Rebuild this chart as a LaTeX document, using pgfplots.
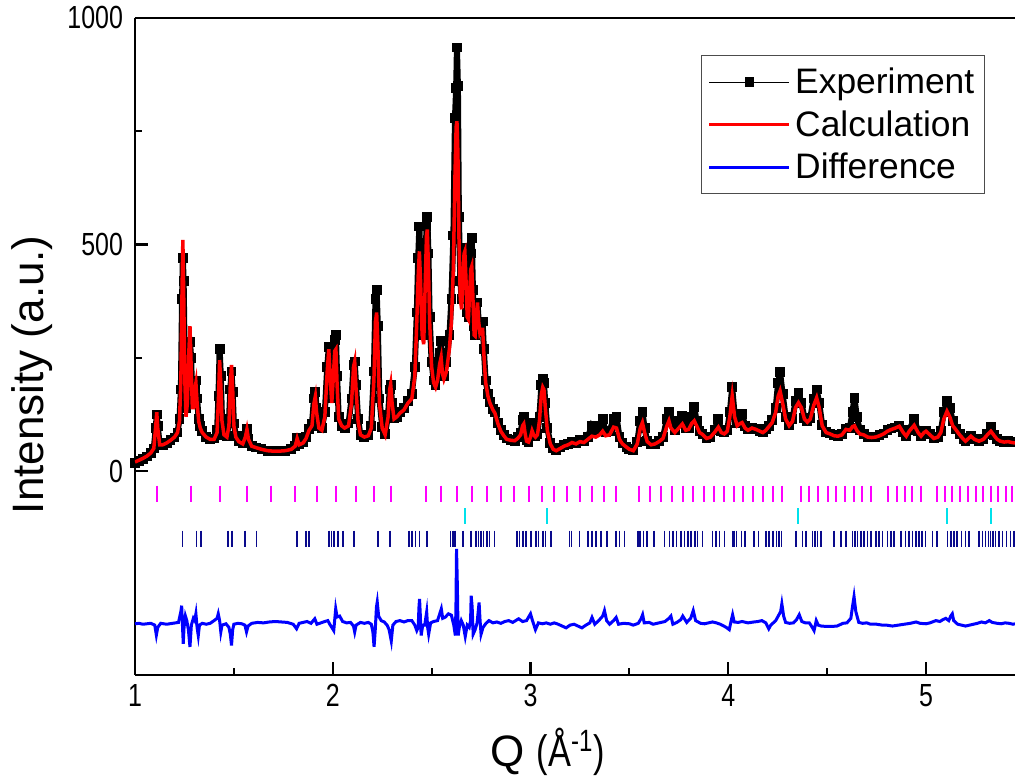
\documentclass[border=0pt]{standalone}
\usepackage{fontspec}
\setmainfont{Liberation Sans}
\newfontfamily\narrowfont[FakeStretch=0.78]{Liberation Sans}
\usepackage{pgfplots}
\usepackage{pgfplotstable}
\pgfplotsset{compat=1.18}
\definecolor{cmag}{RGB}{255,0,255}
\definecolor{ccyan}{RGB}{0,225,235}
\definecolor{cnavy}{RGB}{10,10,140}
\definecolor{cblue}{RGB}{0,0,255}
\definecolor{cred}{RGB}{255,0,0}

\pgfplotstableread{
x c e
1.00 20 18
1.02 24 22
1.04 28 27
1.06 33 32
1.08 40 40
1.095 50 50
1.105 100 95
1.11 130 125
1.115 95 100
1.125 58 58
1.14 58 57
1.16 62 62
1.18 68 68
1.20 75 74
1.215 85 85
1.225 110 115
1.232 200 180
1.238 400 380
1.242 510 470
1.246 400 420
1.252 200 230
1.258 120 140
1.265 150 170
1.272 260 240
1.278 320 285
1.284 230 250
1.29 140 150
1.296 140 150
1.302 180 180
1.308 195 200
1.314 150 160
1.322 110 115
1.33 95 100
1.34 85 88
1.36 75 76
1.38 70 71
1.40 70 72
1.415 85 90
1.422 160 165
1.428 245 270
1.434 190 210
1.44 110 115
1.45 80 80
1.465 75 78
1.475 100 110
1.482 190 180
1.488 234 220
1.494 180 175
1.50 100 105
1.51 75 78
1.525 65 66
1.545 60 62
1.558 75 78
1.566 92 92
1.574 70 72
1.59 55 55
1.61 52 52
1.64 48 48
1.67 45 45
1.70 44 44
1.73 44 44
1.76 45 45
1.79 48 48
1.81 55 56
1.82 72 74
1.83 58 60
1.85 62 64
1.865 72 75
1.88 90 92
1.895 100 105
1.905 150 160
1.912 165 175
1.918 130 140
1.93 95 100
1.945 90 95
1.96 120 130
1.972 220 230
1.98 269 273
1.988 200 220
1.995 150 160
2.002 200 210
2.01 265 290
2.016 269 300
2.022 190 210
2.03 115 120
2.045 100 100
2.06 95 95
2.08 100 105
2.095 150 160
2.105 230 235
2.111 242 242
2.118 180 190
2.128 110 115
2.14 80 80
2.16 75 75
2.18 78 80
2.195 95 100
2.208 200 220
2.216 330 380
2.222 350 400
2.228 280 320
2.236 150 160
2.25 95 98
2.265 80 82
2.28 120 125
2.288 180 180
2.293 192 190
2.30 150 150
2.31 115 118
2.325 120 120
2.34 128 130
2.36 135 140
2.38 150 155
2.40 160 170
2.415 210 230
2.425 330 350
2.432 430 470
2.438 485 540
2.444 420 460
2.452 300 320
2.46 280 300
2.468 420 440
2.474 520 540
2.478 533 561
2.484 450 480
2.49 330 340
2.50 230 240
2.51 195 200
2.52 185 190
2.53 200 210
2.54 235 260
2.548 251 287
2.555 215 230
2.562 203 210
2.575 220 240
2.59 270 300
2.60 330 380
2.61 450 520
2.618 650 780
2.624 760 845
2.628 772 935
2.633 700 850
2.638 520 560
2.645 380 420
2.652 357 380
2.658 420 440
2.664 480 485
2.668 485 493
2.674 420 430
2.68 340 350
2.686 335 340
2.692 390 420
2.698 445 480
2.703 452 515
2.709 380 400
2.715 300 320
2.72 298 300
2.726 340 350
2.732 372 372
2.738 330 330
2.744 305 306
2.752 313 320
2.758 313 330
2.764 260 270
2.773 196 200
2.785 165 170
2.795 150 152
2.81 135 137
2.82 128 130
2.835 105 107
2.85 88 90
2.865 78 80
2.88 70 72
2.90 68 68
2.92 67 67
2.935 72 75
2.95 80 85
2.96 100 112
2.966 104 119
2.972 85 90
2.98 66 68
2.99 64 65
3.00 75 80
3.008 89 106
3.016 80 85
3.025 75 78
3.035 80 82
3.045 110 120
3.055 170 190
3.062 185 203
3.068 180 195
3.075 140 150
3.085 90 95
3.10 60 62
3.115 48 50
3.13 45 46
3.15 50 52
3.17 55 57
3.19 58 60
3.21 63 65
3.23 60 62
3.25 65 68
3.27 63 66
3.29 70 75
3.31 77 100
3.33 75 90
3.35 80 100
3.365 88 115
3.38 78 85
3.40 80 88
3.42 97 115
3.435 95 119
3.45 70 75
3.465 60 62
3.485 53 54
3.50 48 49
3.52 45 46
3.54 60 65
3.555 95 110
3.566 107 130
3.577 85 95
3.59 65 66
3.61 58 59
3.63 60 60
3.65 65 66
3.67 72 75
3.69 100 115
3.70 111 130
3.71 95 110
3.73 85 90
3.75 95 110
3.768 104 122
3.785 90 95
3.80 92 95
3.815 105 120
3.828 111 141
3.84 100 110
3.855 85 88
3.87 81 82
3.89 72 73
3.91 75 76
3.93 85 90
3.95 97 115
3.965 85 88
3.98 82 85
3.995 88 90
4.008 120 130
4.02 166 185
4.032 120 125
4.045 100 105
4.06 105 115
4.07 107 126
4.085 95 100
4.10 90 92
4.12 95 96
4.14 92 93
4.16 88 89
4.175 85 86
4.19 90 92
4.205 98 100
4.222 107 112
4.24 130 140
4.252 165 195
4.262 177 218
4.275 150 170
4.29 115 120
4.308 100 102
4.325 110 115
4.34 140 155
4.355 151 173
4.37 140 150
4.385 115 118
4.40 108 110
4.415 115 118
4.432 145 160
4.447 162 180
4.46 140 150
4.475 100 102
4.495 85 86
4.515 82 83
4.535 78 79
4.555 77 78
4.575 80 82
4.595 92 94
4.615 90 95
4.628 98 130
4.638 100 162
4.65 90 120
4.665 82 90
4.685 80 82
4.705 75 76
4.725 74 75
4.745 75 76
4.765 78 79
4.785 82 83
4.805 88 90
4.825 92 94
4.845 95 96
4.865 99 100
4.885 85 86
4.90 77 78
4.915 88 90
4.94 101 115
4.96 85 88
4.975 77 78
4.99 85 86
5.00 88 89
5.02 80 81
5.04 72 73
5.06 75 76
5.075 85 88
5.09 115 130
5.106 132 154
5.12 120 140
5.135 100 110
5.15 92 93
5.17 80 81
5.19 70 71
5.20 66 67
5.215 72 73
5.227 77 78
5.245 70 71
5.268 66 67
5.29 70 71
5.31 80 82
5.328 88 97
5.345 78 80
5.36 70 71
5.375 66 67
5.395 64 65
5.415 65 66
5.435 63 64
5.45 62 63
}\profile

\pgfplotstableread{
x d
1.00 -337
1.02 -336
1.04 -338
1.06 -337
1.08 -336
1.10 -340
1.108 -362
1.115 -345
1.13 -336
1.16 -338
1.19 -336
1.22 -334
1.232 -310
1.236 -297
1.240 -340
1.244 -381
1.248 -345
1.255 -320
1.262 -330
1.270 -350
1.278 -388
1.285 -340
1.295 -325
1.302 -330
1.308 -315
1.314 -345
1.32 -363
1.326 -340
1.34 -336
1.36 -338
1.38 -336
1.40 -330
1.415 -325
1.421 -315
1.428 -330
1.434 -355
1.44 -340
1.46 -337
1.475 -345
1.482 -360
1.488 -385
1.494 -350
1.50 -338
1.52 -336
1.54 -337
1.556 -340
1.564 -355
1.572 -342
1.59 -336
1.62 -334
1.65 -335
1.68 -333
1.71 -332
1.74 -333
1.77 -334
1.80 -338
1.817 -348
1.83 -336
1.85 -334
1.87 -332
1.89 -336
1.909 -326
1.92 -338
1.94 -335
1.96 -332
1.975 -330
1.985 -338
2.005 -352
2.015 -304
2.022 -322
2.035 -320
2.05 -332
2.07 -335
2.09 -334
2.105 -342
2.111 -355
2.118 -340
2.14 -334
2.16 -336
2.18 -334
2.195 -338
2.203 -355
2.209 -388
2.215 -350
2.221 -300
2.225 -289
2.232 -320
2.245 -330
2.26 -333
2.275 -340
2.285 -350
2.296 -375
2.304 -340
2.32 -332
2.34 -330
2.36 -333
2.38 -330
2.40 -330
2.415 -340
2.425 -352
2.432 -345
2.436 -300
2.439 -282
2.443 -320
2.447 -363
2.455 -340
2.465 -340
2.475 -311
2.48 -345
2.485 -360
2.495 -335
2.51 -332
2.53 -330
2.549 -304
2.556 -325
2.57 -322
2.585 -315
2.60 -318
2.612 -340
2.62 -363
2.623 -300
2.626 -172
2.630 -250
2.634 -363
2.64 -345
2.65 -330
2.66 -340
2.67 -365
2.68 -340
2.69 -345
2.697 -330
2.70 -275
2.705 -300
2.71 -360
2.72 -350
2.73 -335
2.74 -290
2.745 -330
2.75 -360
2.76 -345
2.775 -336
2.79 -330
2.81 -335
2.83 -333
2.85 -336
2.87 -332
2.89 -330
2.91 -334
2.94 -326
2.96 -332
2.98 -330
3.00 -315
3.01 -330
3.025 -350
3.04 -335
3.06 -337
3.08 -335
3.10 -338
3.12 -335
3.14 -338
3.16 -342
3.18 -346
3.20 -340
3.22 -338
3.24 -342
3.26 -346
3.28 -340
3.30 -335
3.311 -323
3.325 -338
3.345 -330
3.365 -320
3.374 -308
3.385 -330
3.40 -338
3.42 -330
3.433 -323
3.445 -338
3.47 -336
3.50 -337
3.52 -340
3.545 -336
3.56 -325
3.567 -317
3.575 -335
3.60 -334
3.62 -338
3.64 -336
3.66 -334
3.68 -332
3.70 -325
3.71 -320
3.72 -338
3.74 -334
3.76 -328
3.77 -320
3.79 -334
3.81 -325
3.823 -308
3.835 -330
3.86 -336
3.88 -337
3.90 -335
3.92 -333
3.94 -335
3.96 -338
3.99 -345
4.005 -350
4.015 -330
4.022 -317
4.03 -333
4.05 -334
4.07 -332
4.10 -335
4.13 -333
4.15 -332
4.17 -330
4.19 -335
4.205 -348
4.215 -340
4.24 -330
4.265 -310
4.271 -293
4.28 -320
4.29 -334
4.31 -336
4.33 -335
4.345 -328
4.359 -317
4.372 -332
4.39 -335
4.41 -335
4.425 -345
4.434 -352
4.445 -330
4.455 -340
4.47 -342
4.50 -343
4.52 -343
4.55 -342
4.58 -336
4.60 -335
4.62 -325
4.628 -300
4.636 -277
4.645 -310
4.66 -334
4.68 -336
4.70 -335
4.72 -338
4.75 -338
4.78 -340
4.80 -340
4.83 -342
4.86 -340
4.89 -338
4.92 -336
4.95 -333
4.97 -336
5.00 -337
5.02 -335
5.05 -330
5.07 -332
5.085 -328
5.10 -325
5.115 -330
5.125 -320
5.133 -315
5.14 -330
5.16 -338
5.18 -340
5.20 -342
5.22 -340
5.24 -338
5.26 -336
5.28 -333
5.30 -335
5.32 -330
5.335 -334
5.36 -336
5.38 -337
5.40 -335
5.42 -336
5.44 -338
5.45 -337
}\diff

\begin{document}
\begin{tikzpicture}
\begin{axis}[
  width=440pt, height=328.5pt, scale only axis,
  xmin=1, xmax=5.45, ymin=-450, ymax=1000,
  clip mode=individual,
  axis x line*=box, axis y line*=left,
  xtick={1,2,3,4,5}, ytick={0,500,1000},
  minor x tick num=1, minor y tick num=1,
  xtick pos=bottom, ytick pos=left,
  tick align=inside,
  major tick length=6.5pt, minor tick length=3.5pt,
  every tick/.style={black, line width=1.1pt},
  axis line style={line width=1.25pt},
  /pgf/number format/assume math mode=true,
  /pgf/number format/1000 sep={},
  xticklabel style={font=\narrowfont\fontsize{16}{16}\selectfont, yshift=-1pt},
  yticklabel style={font=\narrowfont\fontsize{16}{16}\selectfont, xshift=-2.5pt},
  xlabel={Q {\narrowfont(Å\textsuperscript{-1})}},
  ylabel={Intensity (a.u.)},
  label style={font=\fontsize{22}{26}\selectfont},
  xlabel style={at={(axis description cs:0.469,-0.117)}, anchor=center},
  ylabel style={at={(axis description cs:-0.117,0.457)}, anchor=center},
  legend image code/.code={\draw[mark repeat=2,mark phase=2,#1] plot coordinates {(0pt,0pt) (20pt,0pt) (40pt,0pt)};},
  legend style={at={(rel axis cs:1,1)}, anchor=north east, xshift=-15pt, yshift=-18.5pt,
    draw=black!70, line width=0.75pt, font=\fontsize{17.7}{21}\selectfont,
    inner xsep=3pt, inner ysep=4pt, row sep=3pt},
  legend cell align=left,
]
\addplot[forget plot, black, line width=3pt, line join=miter, miter limit=2] table[x=x, y=e] {\profile};
\addplot[black, line width=0.5pt, mark=square*, mark size=2.2pt, mark options={solid}] table[x=x, y=e] {\profile};
\addlegendentry{Experiment}
\addplot[cred, line width=1.75pt] table[x=x, y=c] {\profile};
\addlegendentry{Calculation}
\addplot[cblue, line width=1.5pt] table[x=x, y=d] {\diff};
\addlegendentry{Difference}

\addplot[forget plot, only marks, mark=|, mark size=4pt, cmag, mark options={line width=1pt}] coordinates {
(1.110,-50) (1.281,-50) (1.429,-50) (1.564,-50) (1.690,-50) (1.808,-50) (1.918,-50) (2.015,-50)
(2.116,-50) (2.209,-50) (2.296,-50) (2.470,-50) (2.549,-50) (2.628,-50) (2.705,-50) (2.779,-50)
(2.852,-50) (2.919,-50) (2.991,-50) (3.057,-50) (3.121,-50) (3.185,-50) (3.251,-50) (3.312,-50)
(3.370,-50) (3.433,-50) (3.547,-50) (3.605,-50) (3.660,-50) (3.716,-50) (3.769,-50) (3.823,-50)
(3.875,-50) (3.926,-50) (3.976,-50) (4.027,-50) (4.076,-50) (4.125,-50) (4.175,-50) (4.226,-50)
(4.274,-50) (4.367,-50) (4.409,-50) (4.456,-50) (4.502,-50) (4.547,-50) (4.591,-50) (4.636,-50)
(4.678,-50) (4.724,-50) (4.808,-50) (4.852,-50) (4.892,-50) (4.931,-50) (4.973,-50) (5.054,-50)
(5.096,-50) (5.133,-50) (5.172,-50) (5.212,-50) (5.251,-50) (5.289,-50) (5.327,-50) (5.365,-50)
(5.402,-50) (5.436,-50)
};
\addplot[forget plot, only marks, mark=|, mark size=4pt, ccyan, mark options={line width=1pt}] coordinates {
(2.670,-100) (3.082,-100) (4.352,-100) (5.104,-100) (5.330,-100)
};
\addplot[forget plot, only marks, mark=|, mark size=4pt, cnavy, mark options={line width=0.8pt}] coordinates {
(1.241,-149) (1.312,-149) (1.333,-149) (1.471,-149) (1.491,-149) (1.556,-149) (1.615,-149) (1.820,-149)
(1.864,-149) (1.879,-149) (1.981,-149) (1.993,-149) (2.006,-149) (2.027,-149) (2.052,-149) (2.106,-149)
(2.229,-149) (2.291,-149) (2.385,-149) (2.400,-149) (2.419,-149) (2.439,-149) (2.476,-149) (2.596,-149)
(2.607,-149) (2.619,-149) (2.658,-149) (2.700,-149) (2.725,-149) (2.737,-149) (2.751,-149) (2.763,-149)
(2.781,-149) (2.793,-149) (2.818,-149) (2.933,-149) (2.944,-149) (2.961,-149) (2.978,-149) (3.003,-149)
(3.029,-149) (3.040,-149) (3.062,-149) (3.076,-149) (3.104,-149) (3.197,-149) (3.208,-149) (3.248,-149)
(3.290,-149) (3.311,-149) (3.332,-149) (3.357,-149) (3.386,-149) (3.433,-149) (3.450,-149) (3.475,-149)
(3.545,-149) (3.554,-149) (3.571,-149) (3.588,-149) (3.626,-149) (3.677,-149) (3.702,-149) (3.722,-149)
(3.739,-149) (3.761,-149) (3.778,-149) (3.795,-149) (3.811,-149) (3.833,-149) (3.845,-149) (3.870,-149)
(3.921,-149) (3.938,-149) (3.955,-149) (3.980,-149) (4.022,-149) (4.030,-149) (4.042,-149) (4.067,-149)
(4.086,-149) (4.131,-149) (4.152,-149) (4.190,-149) (4.207,-149) (4.227,-149) (4.244,-149) (4.258,-149)
(4.269,-149) (4.342,-149) (4.375,-149) (4.392,-149) (4.426,-149) (4.439,-149) (4.451,-149) (4.468,-149)
(4.535,-149) (4.569,-149) (4.594,-149) (4.628,-149) (4.641,-149) (4.653,-149) (4.670,-149) (4.687,-149)
(4.704,-149) (4.721,-149) (4.746,-149) (4.763,-149) (4.779,-149) (4.805,-149) (4.822,-149) (4.838,-149)
(4.872,-149) (4.897,-149) (4.914,-149) (4.931,-149) (4.948,-149) (4.965,-149) (4.981,-149) (4.998,-149)
(5.032,-149) (5.057,-149) (5.108,-149) (5.125,-149) (5.141,-149) (5.158,-149) (5.180,-149) (5.200,-149)
(5.217,-149) (5.268,-149) (5.285,-149) (5.301,-149) (5.315,-149) (5.327,-149) (5.338,-149) (5.352,-149)
(5.369,-149) (5.386,-149) (5.406,-149) (5.428,-149) (5.444,-149)
};
\coordinate (bl) at (rel axis cs:0,0);
\coordinate (tr) at (rel axis cs:1,1);
\end{axis}
\pgfresetboundingbox
\path ([shift={(-67.5pt,-51.5pt)}]bl) rectangle ([shift={(0pt,9pt)}]tr);
\end{tikzpicture}
\end{document}
